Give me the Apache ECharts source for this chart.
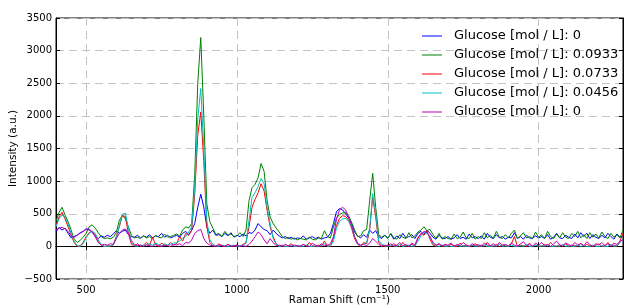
<!DOCTYPE html>
<html>
<head>
<meta charset="utf-8">
<script src="https://cdn.jsdelivr.net/npm/echarts@6/dist/echarts.min.js"></script>
<style>
    html, body { margin: 0; padding: 0; background: #fff; }
    #raman_chart { width: 624px; height: 308px; }
</style>
</head>
<body>
<div id="raman_chart"></div>
<script>
// Raman shift (cm-1), sample positions
var ramanShift = [
    400, 410, 420, 430, 440, 450, 460, 470, 480, 490,
    500, 510, 520, 530, 540, 550, 560, 570, 580, 590,
    600, 610, 620, 630, 640, 650, 660, 670, 680, 690,
    700, 710, 720, 730, 740, 750, 760, 770, 780, 790,
    800, 810, 820, 830, 840, 850, 860, 870, 880, 890,
    900, 910, 920, 930, 940, 950, 960, 970, 980, 990,
    1000, 1010, 1020, 1030, 1040, 1050, 1060, 1070, 1080, 1090,
    1100, 1110, 1120, 1130, 1140, 1150, 1160, 1170, 1180, 1190,
    1200, 1210, 1220, 1230, 1240, 1250, 1260, 1270, 1280, 1290,
    1300, 1310, 1320, 1330, 1340, 1350, 1360, 1370, 1380, 1390,
    1400, 1410, 1420, 1430, 1440, 1450, 1460, 1470, 1480, 1490,
    1500, 1510, 1520, 1530, 1540, 1550, 1560, 1570, 1580, 1590,
    1600, 1610, 1620, 1630, 1640, 1650, 1660, 1670, 1680, 1690,
    1700, 1710, 1720, 1730, 1740, 1750, 1760, 1770, 1780, 1790,
    1800, 1810, 1820, 1830, 1840, 1850, 1860, 1870, 1880, 1890,
    1900, 1910, 1920, 1930, 1940, 1950, 1960, 1970, 1980, 1990,
    2000, 2010, 2020, 2030, 2040, 2050, 2060, 2070, 2080, 2090,
    2100, 2110, 2120, 2130, 2140, 2150, 2160, 2170, 2180, 2190,
    2200, 2210, 2220, 2230, 2240, 2250, 2260, 2270, 2280
];

// intensities (a.u.)
var glucose0First = [
    220, 290, 250, 280, 200, 130, 150, 170, 210, 230,
    270, 250, 220, 150, 120, 160, 140, 170, 150, 190,
    240, 200, 230, 250, 180, 150, 140, 170, 130, 160,
    140, 180, 130, 160, 150, 200, 140, 170, 130, 150,
    170, 140, 200, 230, 180, 250, 350, 600, 800, 600,
    300, 200, 250, 170, 180, 150, 200, 160, 210, 140,
    170, 150, 190, 160, 210, 200, 250, 350, 300, 260,
    240, 180, 250, 200, 160, 130, 150, 120, 140, 110,
    130, 120, 160, 110, 130, 150, 120, 140, 110, 130,
    140, 200, 350, 530, 580, 560, 500, 440, 350, 220,
    160, 130, 180, 140, 250, 200, 240, 150, 120, 170,
    130, 190, 110, 160, 120, 200, 130, 150, 180, 120,
    200, 230, 180, 250, 200, 140, 110, 170, 130, 120,
    150, 110, 130, 180, 120, 140, 110, 190, 130, 150,
    120, 160, 110, 200, 140, 120, 180, 130, 150, 110,
    140, 130, 210, 120, 150, 110, 170, 130, 120, 160,
    130, 150, 120, 180, 110, 140, 200, 130, 120, 170,
    140, 120, 190, 130, 210, 150, 200, 120, 180, 140,
    120, 170, 130, 200, 150, 110, 190, 140, 160
];
var glucose0933 = [
    380, 520, 600, 480, 380, 250, 110, 60, 90, 140,
    200, 300, 330, 280, 210, 150, 120, 130, 115, 140,
    210, 400, 480, 420, 300, 170, 130, 140, 120, 160,
    130, 150, 120, 170, 140, 130, 190, 140, 150, 170,
    190, 160, 250, 300, 280, 350, 1100, 2500, 3200, 2000,
    650, 380, 280, 180, 200, 150, 230, 170, 190, 150,
    160, 210, 150, 250, 700, 900, 950, 1050, 1270, 1150,
    700, 450, 350, 280, 220, 150, 120, 140, 110, 130,
    100, 120, 110, 100, 140, 110, 100, 130, 120, 240,
    150, 130, 300, 430, 490, 510, 520, 470, 370, 250,
    150, 160, 240, 260, 700, 1120, 600, 180, 140, 170,
    120, 200, 130, 110, 180, 140, 120, 210, 130, 160,
    220, 250, 300, 240, 260, 180, 120, 200, 110, 150,
    120, 110, 190, 120, 140, 220, 130, 120, 200, 110,
    150, 120, 210, 130, 170, 120, 230, 140, 120, 180,
    130, 200, 250, 120, 160, 210, 130, 150, 120, 220,
    140, 180, 120, 230, 150, 120, 190, 130, 210, 140,
    120, 200, 150, 230, 130, 180, 120, 210, 140, 190,
    130, 220, 150, 120, 200, 140, 180, 130, 250
];
var glucose0733 = [
    320, 450, 520, 420, 300, 180, 60, 0, 10, 60,
    150, 210, 230, 180, 70, 20, 0, 10, 0, 30,
    150, 300, 470, 460, 200, 30, 10, 40, 0, 20,
    60, 10, 140, 30, 0, 50, 20, 10, 60, 20,
    40, 150, 80, 200, 170, 250, 800, 1700, 2060, 1300,
    300, 60, 10, 0, 40, 10, 0, 30, 10, 0,
    20, 0, 30, 60, 300, 600, 720, 820, 960, 850,
    550, 300, 150, 40, 0, 20, 0, 10, 40, 0,
    10, 0, 30, 0, 60, 10, 0, 20, 0, 80,
    10, 0, 120, 320, 430, 470, 460, 400, 280, 120,
    30, 0, 60, 40, 250, 750, 450, 60, 20, 0,
    20, 0, 40, 10, 0, 60, 10, 0, 30, 0,
    120, 200, 170, 240, 110, 20, 0, 40, 0, 10,
    0, 30, 10, 0, 50, 0, 20, 0, 10, 40,
    0, 20, 0, 60, 10, 0, 30, 0, 20, 10,
    0, 40, 150, 0, 20, 10, 0, 50, 0, 20,
    10, 0, 30, 0, 60, 10, 0, 20, 0, 40,
    0, 20, 10, 0, 50, 0, 30, 10, 0, 20,
    40, 0, 10, 60, 0, 20, 0, 80, 200
];
var glucose0456 = [
    300, 420, 480, 450, 340, 200, 80, 10, 0, 40,
    130, 200, 230, 200, 100, 30, 0, 0, 10, 20,
    120, 320, 490, 510, 280, 60, 10, 0, 20, 10,
    30, 40, 20, 50, 30, 10, 40, 20, 30, 50,
    60, 80, 130, 150, 220, 300, 900, 1950, 2420, 1500,
    400, 100, 30, 10, 0, 20, 10, 0, 10, 20,
    0, 10, 20, 50, 400, 750, 820, 920, 1040, 960,
    600, 350, 120, 30, 0, 10, 0, 0, 20, 0,
    0, 10, 0, 20, 0, 0, 10, 0, 20, 40,
    0, 10, 80, 280, 380, 420, 430, 390, 300, 150,
    40, 10, 40, 60, 280, 810, 500, 80, 40, 10,
    0, 20, 10, 0, 30, 0, 10, 20, 0, 10,
    80, 160, 220, 200, 150, 40, 10, 0, 20, 0,
    10, 0, 0, 20, 0, 10, 0, 0, 20, 0,
    10, 0, 20, 0, 0, 10, 0, 30, 0, 10,
    0, 20, 0, 0, 10, 0, 30, 0, 0, 20,
    0, 10, 0, 20, 0, 0, 10, 0, 30, 0,
    10, 0, 0, 20, 0, 10, 0, 0, 20, 0,
    0, 10, 0, 0, 30, 0, 10, 60, 120
];
var glucose0Second = [
    250, 280, 290, 270, 230, 160, 140, 170, 200, 230,
    260, 270, 220, 150, 60, 20, 30, 20, 40, 30,
    120, 200, 250, 270, 200, 90, 30, 10, 20, 0,
    20, 10, 0, 30, 10, 0, 20, 10, 0, 30,
    20, 40, 10, 60, 50, 100, 200, 240, 260, 120,
    50, 20, 10, 0, 20, 10, 0, 30, 0, 10,
    20, 0, 10, 0, 30, 80, 150, 220, 180, 100,
    40, 120, 60, 10, 20, 0, 30, 10, 0, 20,
    10, 0, 30, 10, 0, 50, 20, 0, 40, 10,
    20, 40, 150, 420, 560, 600, 560, 450, 320, 150,
    50, 20, 30, 10, 50, 120, 80, 30, 0, 20,
    10, 40, 0, 20, 60, 10, 30, 0, 50, 20,
    140, 180, 230, 210, 150, 60, 20, 40, 10, 30,
    20, 50, 0, 30, 10, 60, 20, 0, 40, 10,
    30, 0, 50, 20, 10, 40, 0, 60, 20, 30,
    10, 50, 20, 0, 40, 70, 10, 30, 0, 50,
    20, 60, 10, 30, 0, 40, 80, 20, 10, 50,
    30, 0, 60, 20, 40, 10, 70, 30, 0, 40,
    20, 60, 10, 40, 0, 50, 30, 80, 100
];

var seriesNames = [
    "Glucose [mol / L]: 0",
    "Glucose [mol / L]: 0.0933",
    "Glucose [mol / L]: 0.0733",
    "Glucose [mol / L]: 0.0456",
    "Glucose [mol / L]: 0"
];
var seriesValues = [glucose0First, glucose0933, glucose0733, glucose0456, glucose0Second];
var seriesColors = ["#0000ff", "#008000", "#ff0000", "#00bfbf", "#bf00bf"];

var fontName = "DejaVu Sans";

function toPairs(values) {
    var pairs = [];
    for (var i = 0; i < ramanShift.length; i++) {
        pairs.push([ramanShift[i], values[i]]);
    }
    return pairs;
}

var series = [];
for (var i = 0; i < seriesValues.length; i++) {
    series.push({
        // two series share a label, so legend keys are "s0".."s4" and the formatter prints the text
        name: "s" + i,
        type: "line",
        data: toPairs(seriesValues[i]),
        symbol: "none",
        showSymbol: false,
        lineStyle: { color: seriesColors[i], width: 1 },
        itemStyle: { color: seriesColors[i] },
        z: 2 + i
    });
}

var tickStyle = { show: true, inside: true, length: 4, lineStyle: { color: "#000", width: 1 } };
var gridDash = { show: true, lineStyle: { color: "#c4c4c4", width: 1, type: [8, 5] } };

function plainNumber(v) {
    return String(v).replace("-", "\u2212");
}

var raman_chart = echarts.init(document.getElementById("raman_chart"));
raman_chart.setOption({
    animation: false,
    backgroundColor: "#fff",
    textStyle: { fontFamily: fontName },
    grid: {
        left: 56, right: 1, top: 18, bottom: 29,
        outerBoundsMode: "none",
        show: true, borderColor: "#000", borderWidth: 1
    },
    legend: {
        orient: "vertical",
        left: 422,
        top: 28,
        padding: 0,
        icon: "rect",
        itemWidth: 20,
        itemHeight: 1,
        itemGap: 3,
        data: series.map(function (s) { return s.name; }),
        formatter: function (name) {
            return seriesNames[Number(name.substr(1))];
        },
        textStyle: { fontFamily: fontName, fontSize: 13, color: "#000", lineHeight: 16, padding: [0, 0, 0, 7] }
    },
    xAxis: [{
        type: "value",
        min: 400,
        max: 2280,
        splitNumber: 4,
        name: "Raman Shift (cm\u207b\u00b9)",
        nameLocation: "middle",
        nameGap: 16,
        nameMoveOverlap: false,
        nameTextStyle: { fontFamily: fontName, fontSize: 10.5, color: "#000" },
        axisLine: { show: true, lineStyle: { color: "#000", width: 1 } },
        axisTick: tickStyle,
        axisLabel: {
            fontFamily: fontName, fontSize: 10, color: "#000", margin: 6,
            showMinLabel: false, showMaxLabel: false, formatter: plainNumber
        },
        splitLine: gridDash
    }, {
        type: "value",
        position: "top",
        min: 400,
        max: 2280,
        splitNumber: 4,
        axisLine: { show: true, lineStyle: { color: "#000", width: 1 } },
        axisTick: tickStyle,
        axisLabel: { show: false },
        splitLine: { show: false }
    }],
    yAxis: [{
        type: "value",
        min: -500,
        max: 3500,
        interval: 500,
        name: "Intensity (a.u.)",
        nameLocation: "middle",
        nameGap: 37,
        nameMoveOverlap: false,
        nameTextStyle: { fontFamily: fontName, fontSize: 10.5, color: "#000" },
        axisLine: { show: true, lineStyle: { color: "#000", width: 1 } },
        axisTick: tickStyle,
        axisLabel: { fontFamily: fontName, fontSize: 10, color: "#000", margin: 4, formatter: plainNumber },
        splitLine: gridDash
    }, {
        type: "value",
        position: "right",
        min: -500,
        max: 3500,
        interval: 500,
        axisLine: { show: true, lineStyle: { color: "#000", width: 1 } },
        axisTick: tickStyle,
        axisLabel: { show: false },
        splitLine: { show: false }
    }],
    series: series
});
</script>
</body>
</html>
